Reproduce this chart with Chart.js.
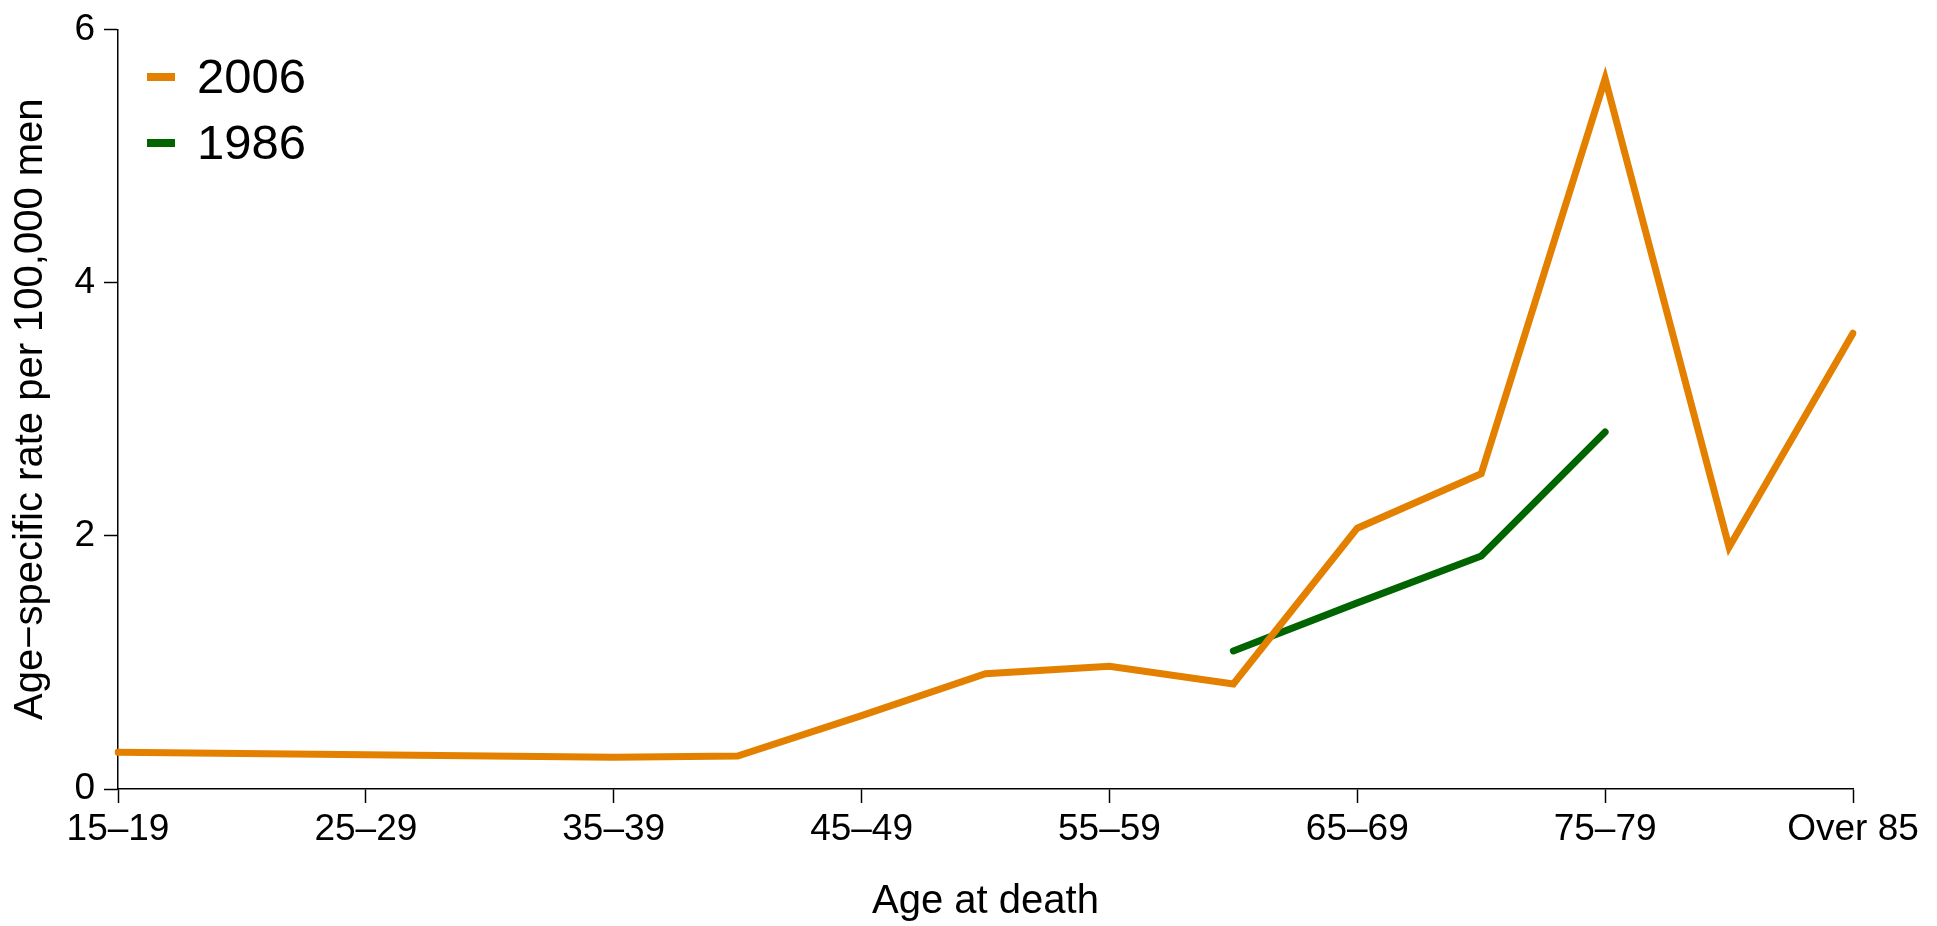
<!DOCTYPE html>
<html>
<head>
<meta charset="utf-8">
<script src="https://cdn.jsdelivr.net/npm/chart.js@4/dist/chart.umd.min.js"></script>
<style>
  html, body { margin: 0; padding: 0; background: #fff; }
  #wrap { width: 1937px; height: 926px; }
</style>
</head>
<body>
<div id="wrap"><canvas id="rateChart"></canvas></div>
<script>
const ageGroups = ["15–19", "20–24", "25–29", "30–34", "35–39", "40–44", "45–49",
  "50–54", "55–59", "60–64", "65–69", "70–74", "75–79", "80–84", "Over 85"];
const rate2006 = [0.29, 0.28, 0.27, 0.26, 0.25, 0.26, 0.58, 0.91, 0.97, 0.83, 2.06, 2.49, 5.61, 1.91, 3.60];
const rate1986 = [null, null, null, null, null, null, null, null, null, 1.09, 1.47, 1.84, 2.82, null, null];
const yTicks = [0, 2, 4, 6];

const FONT = "'Liberation Sans', Arial, sans-serif";

// only every other age group gets a tick and a label
const tickShown = (i) => i % 2 === 0;

// legend drawn inside the plot, top-left, like the original
const insideLegend = {
  id: "insideLegend",
  afterDraw(chart) {
    const ctx = chart.ctx;
    ctx.save();
    chart.data.datasets.forEach((ds, i) => {
      const y = 77 + i * 66;
      ctx.strokeStyle = ds.borderColor;
      ctx.lineWidth = 8;
      ctx.lineCap = "butt";
      ctx.beginPath();
      ctx.moveTo(147, y);
      ctx.lineTo(175, y);
      ctx.stroke();
      ctx.fillStyle = "#000";
      ctx.font = "49px " + FONT;
      ctx.textBaseline = "middle";
      ctx.fillText(ds.label, 197, y + 2);
    });
    ctx.restore();
  }
};

new Chart(document.getElementById("rateChart"), {
  type: "line",
  data: {
    labels: ageGroups,
    datasets: [
      { label: "2006", data: rate2006, borderColor: "#E48000", borderWidth: 7 },
      { label: "1986", data: rate1986, borderColor: "#006400", borderWidth: 7 }
    ]
  },
  options: {
    responsive: true,
    maintainAspectRatio: false,
    animation: false,
    layout: { padding: { top: 23, right: 84, left: 0, bottom: 0 } },
    elements: {
      point: { radius: 0 },
      line: { tension: 0, borderCapStyle: "round", borderJoinStyle: "miter" }
    },
    plugins: {
      legend: { display: false },
      tooltip: { enabled: false }
    },
    scales: {
      x: {
        type: "category",
        offset: false,
        grid: {
          display: true,
          drawOnChartArea: false,
          drawTicks: true,
          tickLength: 14,
          tickWidth: 1.5,
          tickColor: (ctx) => (tickShown(ctx.index) ? "#000" : "rgba(0,0,0,0)")
        },
        border: { display: true, color: "#000", width: 1.5 },
        ticks: {
          color: "#000",
          font: { family: FONT, size: 37 },
          maxRotation: 0,
          autoSkip: false,
          padding: 5,
          callback: (v, i) => (tickShown(i) ? ageGroups[i] : "")
        },
        title: {
          display: true,
          text: "Age at death",
          color: "#000",
          font: { family: FONT, size: 40 },
          padding: { top: 0, bottom: 0 }
        },
        afterFit: (scale) => { scale.height = 137; }
      },
      y: {
        min: 0,
        max: 6,
        afterBuildTicks: (scale) => { scale.ticks = yTicks.map((v) => ({ value: v })); },
        grid: {
          display: true,
          drawOnChartArea: false,
          drawTicks: true,
          tickLength: 14,
          tickWidth: 1.5,
          tickColor: "#000"
        },
        border: { display: true, color: "#000", width: 1.5 },
        ticks: {
          color: "#000",
          font: { family: FONT, size: 37, lineHeight: 1.1 },
          padding: 9
        },
        title: {
          display: true,
          text: "Age−specific rate per 100,000 men",
          color: "#000",
          font: { family: FONT, size: 40 },
          padding: { top: 7, bottom: 0 }
        },
        afterFit: (scale) => { scale.width = 118; }
      }
    }
  },
  plugins: [insideLegend]
});
</script>
</body>
</html>
